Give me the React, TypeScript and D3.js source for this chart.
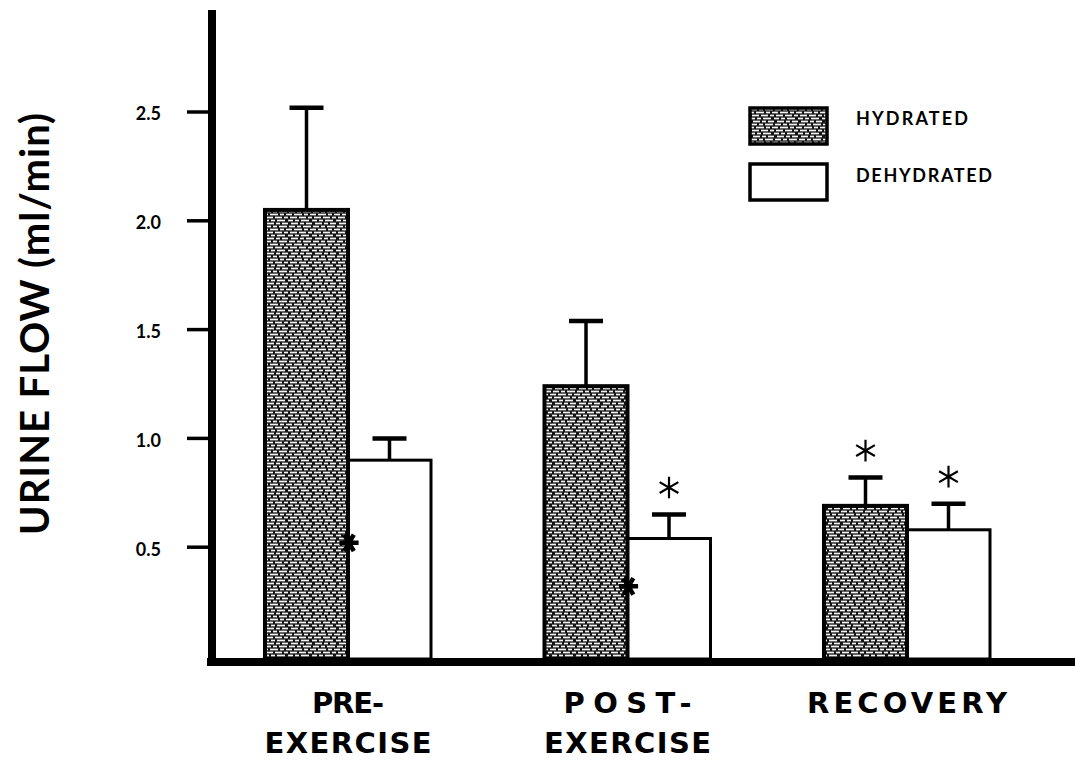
import * as d3 from "d3";

// ---- data ----
const categoryKeys = ["pre", "post", "recovery"];
const categoryLines = [["PRE-", "EXERCISE"], ["POST-", "EXERCISE"], ["RECOVERY"]];
const series = ["HYDRATED", "DEHYDRATED"];
const hydrated = [2.05, 1.24, 0.69];
const hydratedUpper = [2.52, 1.54, 0.82];
const dehydrated = [0.9, 0.54, 0.58];
const dehydratedUpper = [1.0, 0.65, 0.7];
const yTicks = [0.5, 1.0, 1.5, 2.0, 2.5];
// asterisks above error bars: [category, series]
const starsAbove: [string, string][] = [
  ["post", "DEHYDRATED"],
  ["recovery", "HYDRATED"],
  ["recovery", "DEHYDRATED"],
];
// asterisks sitting on the shared bar edge: [category, value]
const starsOnEdge: [string, number][] = [
  ["pre", 0.52],
  ["post", 0.32],
];

const W = 1075;
const H = 776;
const FONT = "Lato, 'Open Sans', sans-serif";
const WIDE_FONT = "'DejaVu Sans', Verdana, sans-serif";
const LABEL_WIDTH: Record<string, number> = {
  "PRE-": 72,
  "POST-": 128,
  EXERCISE: 167,
  RECOVERY: 200,
};

const y = d3.scaleLinear().domain([0, 2.5]).range([656, 112]);
const xGroup = d3.scalePoint<string>().domain(categoryKeys).range([348, 907]);
const xInner = d3.scaleBand<string>().domain(series).range([-83, 83]).padding(0);
const star = d3.symbol().type(d3.symbolAsterisk);

const values: Record<string, number[]> = { HYDRATED: hydrated, DEHYDRATED: dehydrated };
const uppers: Record<string, number[]> = { HYDRATED: hydratedUpper, DEHYDRATED: dehydratedUpper };

// irregular brick-like dash rows for the hydrated texture (24 x 15 tile)
const dashRows = [
  [[1, 7], [9, 13], [15, 23]],
  [[0, 4], [6, 14], [16, 20], [22, 24]],
  [[2, 9], [11, 18], [20, 24]],
  [[0, 5], [7, 11], [13, 21]],
  [[3, 10], [12, 16], [18, 24]],
];

function barX(cat: string, s: string) {
  return (xGroup(cat) ?? 0) + (xInner(s) ?? 0);
}

export default function App() {
  const bw = xInner.bandwidth();
  const base = y(0) + 3;

  return (
    <svg
      width={W}
      height={H}
      style={{ position: "absolute", left: 0, top: 0, background: "#fff" }}
    >
      <defs>
        <pattern id="tex" width={24} height={15} patternUnits="userSpaceOnUse">
          <rect width={24} height={15} fill="#151515" />
          {dashRows.map((row, ri) =>
            row.map(([a, b], di) => (
              <line
                key={`${ri}-${di}`}
                x1={a}
                x2={b}
                y1={1.5 + ri * 3}
                y2={1.5 + ri * 3}
                stroke="#f4f4f4"
                strokeWidth={1.7}
              />
            ))
          )}
        </pattern>
      </defs>

      {/* bars: dehydrated first so the hydrated edge sits on top */}
      {[...series].reverse().map((s) =>
        categoryKeys.map((cat, i) => {
          const v = values[s][i];
          const x0 = barX(cat, s);
          return (
            <rect
              key={`${s}-${cat}`}
              x={x0}
              y={y(v)}
              width={bw}
              height={base - y(v)}
              fill={s === "HYDRATED" ? "url(#tex)" : "#fff"}
              stroke="#000"
              strokeWidth={s === "HYDRATED" ? 4 : 3}
            />
          );
        })
      )}

      {/* error bars */}
      {series.map((s) =>
        categoryKeys.map((cat, i) => {
          const cx = barX(cat, s) + bw / 2;
          const v = values[s][i];
          const u = uppers[s][i];
          return (
            <g key={`err-${s}-${cat}`} stroke="#000">
              <line x1={cx} x2={cx} y1={y(v)} y2={y(u)} strokeWidth={3.5} />
              <line x1={cx - 17} x2={cx + 17} y1={y(u)} y2={y(u)} strokeWidth={4.5} />
            </g>
          );
        })
      )}

      {/* asterisks */}
      {starsAbove.map(([cat, s]) => {
        const i = categoryKeys.indexOf(cat);
        const cx = barX(cat, s) + bw / 2;
        return (
          <path
            key={`sa-${cat}-${s}`}
            d={star.size(330)() ?? ""}
            transform={`translate(${cx},${y(uppers[s][i]) - 27})`}
            fill="none"
            stroke="#000"
            strokeWidth={2.2}
          />
        );
      })}
      {starsOnEdge.map(([cat, v]) => (
        <path
          key={`se-${cat}`}
          d={star.size(260)() ?? ""}
          transform={`translate(${(xGroup(cat) ?? 0) + 1},${y(v)}) rotate(90)`}
          fill="none"
          stroke="#000"
          strokeWidth={4.5}
        />
      ))}

      {/* y axis */}
      <line x1={212} x2={212} y1={10} y2={666} stroke="#000" strokeWidth={8} />
      {yTicks.map((t) => (
        <g key={t}>
          <line x1={187} x2={212} y1={y(t)} y2={y(t)} stroke="#000" strokeWidth={3.5} />
          <text
            x={161}
            y={y(t) + 2}
            dy="0.35em"
            textAnchor="end"
            fontFamily={FONT}
            fontWeight={700}
            fontSize={18}
            fill="#000"
          >
            {t.toFixed(1)}
          </text>
        </g>
      ))}
      <text
        transform="translate(49,324) rotate(-90)"
        textAnchor="middle"
        fontFamily={FONT}
        fontWeight={700}
        fontSize={40}
        textLength={422}
        fill="#000"
      >
        URINE FLOW (ml/min)
      </text>

      {/* x axis */}
      <line x1={207} x2={W} y1={662} y2={662} stroke="#000" strokeWidth={8} />
      {categoryKeys.map((cat, i) => (
        <g key={`lab-${cat}`}>
          {categoryLines[i].map((line, li) => (
            <text
              key={li}
              x={xGroup(cat)}
              y={713 + li * 40}
              textAnchor="middle"
              fontFamily={WIDE_FONT}
              fontWeight={700}
              fontSize={29}
              textLength={LABEL_WIDTH[line]}
              fill="#000"
            >
              {line}
            </text>
          ))}
        </g>
      ))}

      {/* legend */}
      {series.map((s, i) => (
        <g key={`leg-${s}`} transform={`translate(750,${108 + i * 56})`}>
          <rect
            width={77}
            height={36}
            fill={s === "HYDRATED" ? "url(#tex)" : "#fff"}
            stroke="#000"
            strokeWidth={3.5}
          />
          <text
            x={106}
            y={17 + i * 1}
            fontFamily={FONT}
            fontWeight={700}
            fontSize={18}
            textLength={s === "HYDRATED" ? 112 : 136}
            fill="#000"
          >
            {s}
          </text>
        </g>
      ))}
    </svg>
  );
}
